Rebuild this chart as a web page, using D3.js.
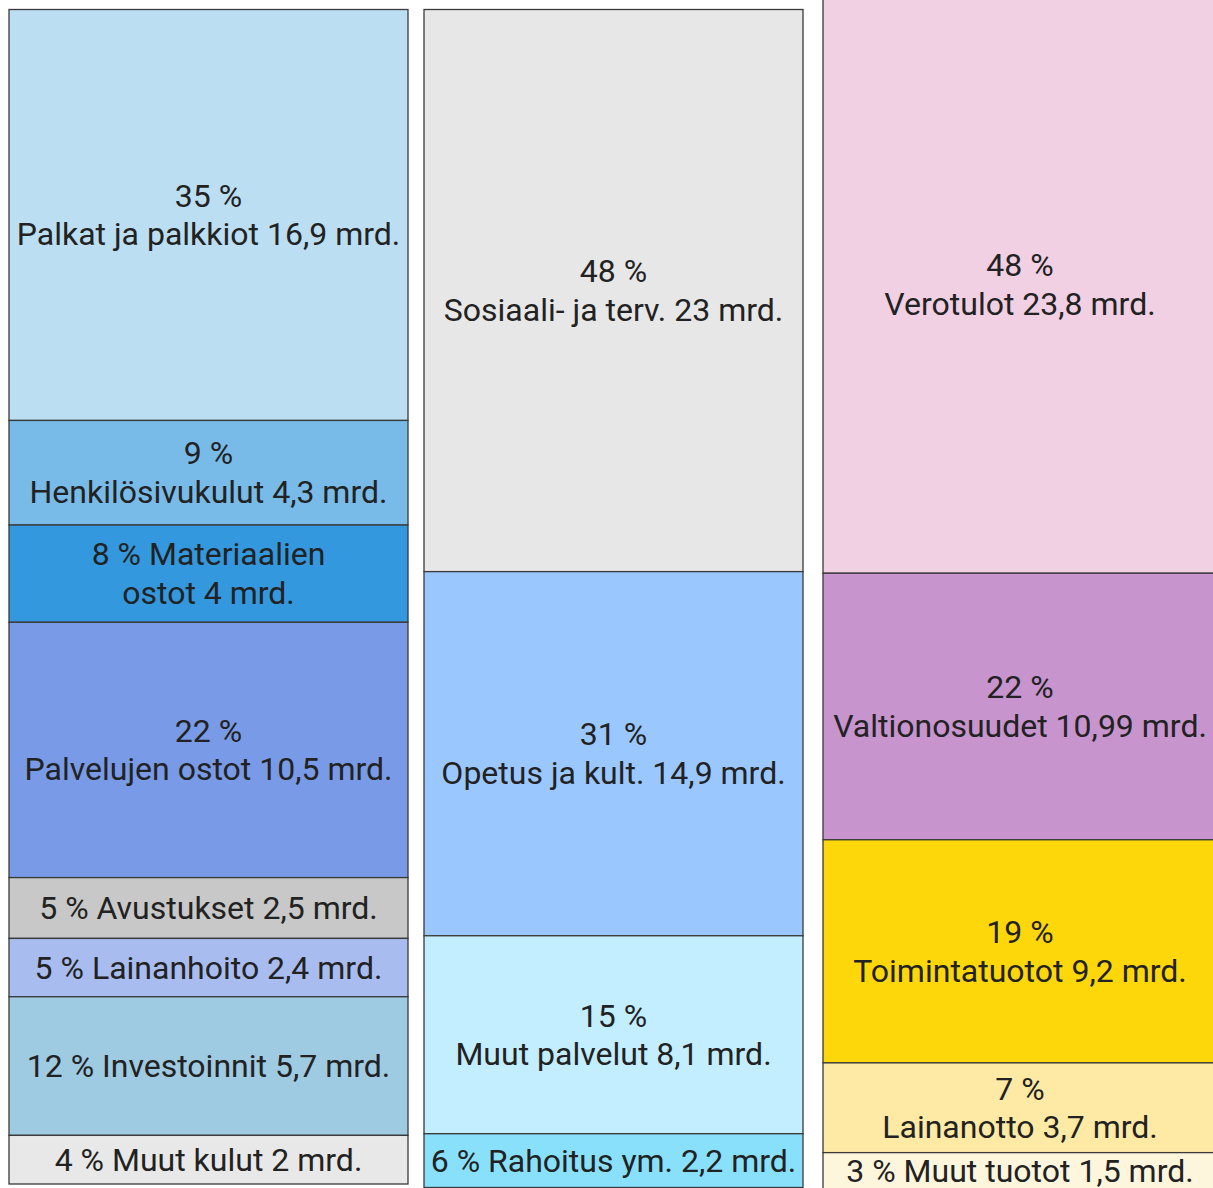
<!DOCTYPE html>
<html>
<head>
<meta charset="utf-8">
<script src="https://cdn.jsdelivr.net/npm/d3@7"></script>
<style>
  body { margin: 0; background: #fff; }
  svg { display: block; }
  text { font-family: Roboto, "Noto Sans", sans-serif; fill: #222; }
</style>
</head>
<body>
<svg width="1213" height="1188"></svg>
<script>
const svg = d3.select("svg");
const width = +svg.attr("width");
const height = +svg.attr("height");

// menot (mrd. €)
const kuluValues = [16.9, 4.3, 4, 10.5, 2.5, 2.4, 5.7, 2];
const kuluLabels = [
  ["35 %", "Palkat ja palkkiot 16,9 mrd."],
  ["9 %", "Henkilösivukulut 4,3 mrd."],
  ["8 % Materiaalien", "ostot 4 mrd."],
  ["22 %", "Palvelujen ostot 10,5 mrd."],
  ["5 % Avustukset 2,5 mrd."],
  ["5 % Lainanhoito 2,4 mrd."],
  ["12 % Investoinnit 5,7 mrd."],
  ["4 % Muut kulut 2 mrd."]
];
const kuluColors = ["#bbdef3", "#78bbe8", "#3398dd", "#799ae6", "#c8c8c8", "#a8bcf0", "#9ecae2", "#e8e8e8"];

// tehtävät
const tehtavaValues = [23, 14.9, 8.1, 2.2];
const tehtavaLabels = [
  ["48 %", "Sosiaali- ja terv. 23 mrd."],
  ["31 %", "Opetus ja kult. 14,9 mrd."],
  ["15 %", "Muut palvelut 8,1 mrd."],
  ["6 % Rahoitus ym. 2,2 mrd."]
];
const tehtavaColors = ["#e7e7e7", "#9ac8fe", "#c3eeff", "#88e0fb"];

// tulot
const tuloValues = [23.8, 10.99, 9.2, 3.7, 1.5];
const tuloLabels = [
  ["48 %", "Verotulot 23,8 mrd."],
  ["22 %", "Valtionosuudet 10,99 mrd."],
  ["19 %", "Toimintatuotot 9,2 mrd."],
  ["7 %", "Lainanotto 3,7 mrd."],
  ["3 % Muut tuotot 1,5 mrd."]
];
const tuloColors = ["#f0d0e2", "#c794ce", "#fed70a", "#feeaa4", "#fef6dc"];

const columns = [
  { values: kuluValues, labels: kuluLabels, colors: kuluColors, x: [9, 408], y: [9.5, 1184] },
  { values: tehtavaValues, labels: tehtavaLabels, colors: tehtavaColors, x: [424, 803], y: [9.5, 1187.5] },
  { values: tuloValues, labels: tuloLabels, colors: tuloColors, x: [823, 1217], y: [-4, 1189] }
];

const fontSize = 32;
const lineH = 38.5;

columns.forEach(col => {
  const total = d3.sum(col.values);
  const y = d3.scaleLinear().domain([0, total]).range(col.y);
  const ends = d3.cumsum(col.values);
  const items = col.values.map((v, i) => ({
    y0: ends[i] - v, y1: ends[i], label: col.labels[i], color: col.colors[i]
  }));

  const g = svg.append("g");
  g.selectAll("rect")
    .data(items)
    .join("rect")
    .attr("x", col.x[0])
    .attr("y", d => y(d.y0))
    .attr("width", col.x[1] - col.x[0])
    .attr("height", d => y(d.y1) - y(d.y0))
    .attr("fill", d => d.color)
    .attr("stroke", "#3a3a3a")
    .attr("stroke-width", 1.3);

  const cx = (col.x[0] + col.x[1]) / 2;
  g.selectAll("text")
    .data(items)
    .join("text")
    .attr("text-anchor", "middle")
    .attr("font-size", fontSize)
    .attr("dominant-baseline", "central")
    .each(function (d) {
      const mid = (y(d.y0) + y(d.y1)) / 2;
      const n = d.label.length;
      d3.select(this).selectAll("tspan")
        .data(d.label)
        .join("tspan")
        .attr("x", cx)
        .attr("y", (l, j) => mid + (j - (n - 1) / 2) * lineH)
        .text(l => l);
    });
});
</script>
</body>
</html>
